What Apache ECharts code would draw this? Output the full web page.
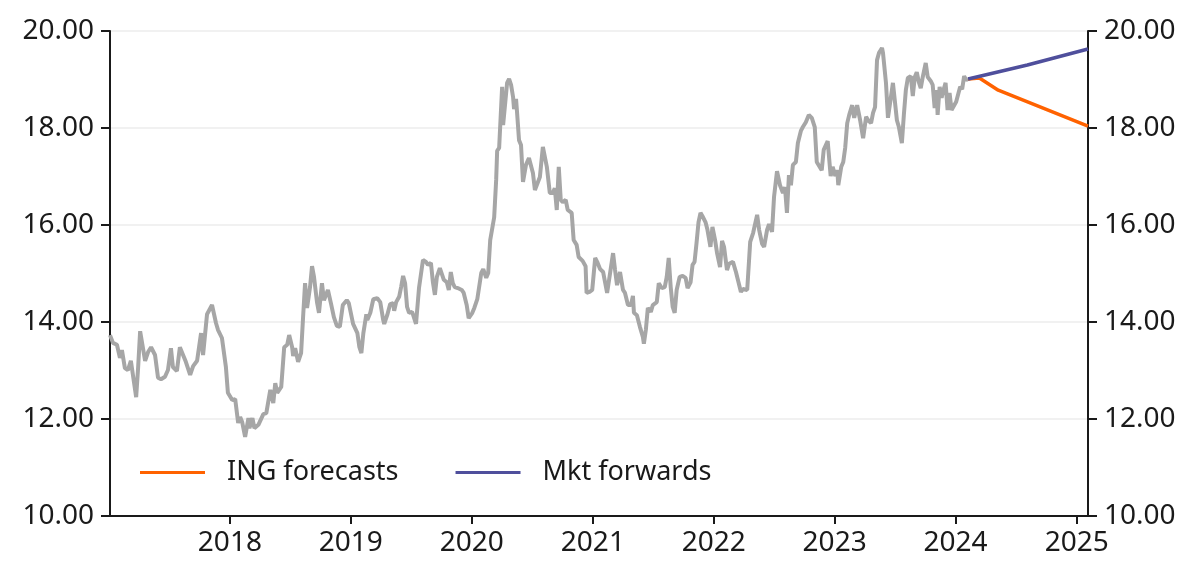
<!DOCTYPE html>
<html>

<head>
    <meta charset="UTF-8">
    <script src="https://cdn.jsdelivr.net/npm/echarts@6.0.0/dist/echarts.min.js"></script>
    <style>
        html, body { margin: 0; padding: 0; background: #fff; }
    </style>
</head>

<body>
    <div id="main" style="width: 1200px; height: 582px;"></div>
    <script>
        // weekly history
        const histData = [
            ['2017-01-04', 13.73], ['2017-01-13', 13.57], ['2017-01-25', 13.53], ['2017-02-03', 13.26], ['2017-02-09', 13.42],
            ['2017-02-18', 13.05], ['2017-02-27', 13.01], ['2017-03-08', 13.20], ['2017-03-24', 12.45], ['2017-03-30', 13.07],
            ['2017-04-05', 13.81], ['2017-04-20', 13.20], ['2017-04-29', 13.38], ['2017-05-08', 13.48], ['2017-05-20', 13.32],
            ['2017-05-29', 12.85], ['2017-06-07', 12.82], ['2017-06-19', 12.87], ['2017-06-28', 13.01], ['2017-07-07', 13.46],
            ['2017-07-13', 13.07], ['2017-07-25', 12.99], ['2017-08-03', 13.48], ['2017-08-09', 13.48], ['2017-08-21', 13.18],
            ['2017-09-03', 12.91], ['2017-09-12', 13.09], ['2017-09-24', 13.20], ['2017-10-06', 13.77], ['2017-10-12', 13.32],
            ['2017-10-24', 14.16], ['2017-11-08', 14.35], ['2017-11-20', 13.98], ['2017-11-26', 13.84], ['2017-12-08', 13.67],
            ['2017-12-20', 13.07], ['2017-12-26', 12.54],
            ['2018-01-08', 12.39], ['2018-01-17', 12.41], ['2018-01-26', 11.92], ['2018-02-01', 12.04], ['2018-02-07', 11.94],
            ['2018-02-16', 11.63], ['2018-02-26', 12.02], ['2018-03-01', 11.81], ['2018-03-10', 12.02], ['2018-03-16', 11.81],
            ['2018-03-28', 11.88], ['2018-04-12', 12.10], ['2018-04-21', 12.12], ['2018-05-03', 12.60], ['2018-05-12', 12.33],
            ['2018-05-18', 12.74], ['2018-05-24', 12.54], ['2018-06-05', 12.66], ['2018-06-14', 13.48], ['2018-06-23', 13.53],
            ['2018-06-29', 13.73], ['2018-07-08', 13.48], ['2018-07-11', 13.30], ['2018-07-17', 13.46], ['2018-07-26', 13.18],
            ['2018-08-04', 13.36], ['2018-08-10', 14.10], ['2018-08-16', 14.80], ['2018-08-22', 14.29], ['2018-08-31', 14.72],
            ['2018-09-06', 15.15], ['2018-09-12', 14.93], ['2018-09-21', 14.41], ['2018-09-27', 14.19], ['2018-10-06', 14.80],
            ['2018-10-12', 14.45], ['2018-10-18', 14.49], ['2018-10-24', 14.66], ['2018-11-02', 14.39], ['2018-11-11', 14.10],
            ['2018-11-20', 13.92], ['2018-11-29', 13.90], ['2018-12-08', 14.35], ['2018-12-20', 14.45], ['2018-12-26', 14.39],
            ['2019-01-08', 13.96], ['2019-01-21', 13.77], ['2019-01-27', 13.48], ['2019-02-02', 13.36], ['2019-02-08', 13.77],
            ['2019-02-17', 14.16], ['2019-02-20', 14.04], ['2019-03-01', 14.19], ['2019-03-10', 14.47], ['2019-03-16', 14.45],
            ['2019-03-22', 14.49], ['2019-03-31', 14.41], ['2019-04-09', 14.04], ['2019-04-12', 13.96], ['2019-04-21', 14.14],
            ['2019-04-30', 14.37], ['2019-05-09', 14.39], ['2019-05-12', 14.23], ['2019-05-18', 14.41], ['2019-05-27', 14.52],
            ['2019-06-02', 14.72], ['2019-06-08', 14.95], ['2019-06-14', 14.80], ['2019-06-20', 14.31], ['2019-06-26', 14.19],
            ['2019-07-05', 14.21], ['2019-07-08', 14.15], ['2019-07-17', 13.96], ['2019-07-26', 14.70], ['2019-08-07', 15.28],
            ['2019-08-16', 15.24], ['2019-08-22', 15.18], ['2019-08-31', 15.22], ['2019-09-06', 14.82], ['2019-09-12', 14.56],
            ['2019-09-18', 14.93], ['2019-09-27', 15.11], ['2019-10-03', 15.07], ['2019-10-09', 14.87], ['2019-10-18', 14.82],
            ['2019-10-24', 14.66], ['2019-10-30', 15.03], ['2019-11-05', 14.80], ['2019-11-11', 14.72], ['2019-11-20', 14.70],
            ['2019-12-02', 14.66], ['2019-12-08', 14.60], ['2019-12-17', 14.35], ['2019-12-23', 14.08],
            ['2020-01-03', 14.19], ['2020-01-09', 14.29], ['2020-01-18', 14.47], ['2020-01-24', 14.49], ['2020-01-30', 15.01],
            ['2020-02-05', 15.09], ['2020-02-14', 14.91], ['2020-02-20', 15.01], ['2020-02-26', 15.69], ['2020-03-03', 15.65],
            ['2020-03-09', 16.16], ['2020-03-15', 16.93], ['2020-03-18', 17.53], ['2020-03-24', 17.59], ['2020-04-02', 18.85],
            ['2020-04-05', 18.06], ['2020-04-11', 18.06], ['2020-04-17', 18.93], ['2020-04-23', 19.01], ['2020-04-29', 18.89],
            ['2020-05-05', 18.64], ['2020-05-08', 18.39], ['2020-05-14', 18.60], ['2020-05-17', 18.33], ['2020-05-23', 17.75],
            ['2020-05-29', 17.65], ['2020-06-04', 16.89], ['2020-06-13', 17.24], ['2020-06-22', 17.38], ['2020-06-28', 17.34],
            ['2020-07-04', 17.07], ['2020-07-10', 16.72], ['2020-07-16', 16.68], ['2020-07-25', 16.99], ['2020-08-03', 17.61],
            ['2020-08-15', 17.20], ['2020-08-24', 16.66], ['2020-09-02', 16.66], ['2020-09-08', 16.76], ['2020-09-14', 16.31],
            ['2020-09-20', 17.20], ['2020-09-26', 16.52], ['2020-10-02', 16.47], ['2020-10-11', 16.52], ['2020-10-17', 16.31],
            ['2020-10-29', 16.25], ['2020-11-04', 15.69], ['2020-11-13', 15.59], ['2020-11-19', 15.34], ['2020-12-01', 15.26],
            ['2020-12-10', 15.15], ['2020-12-13', 14.60], ['2020-12-22', 14.62], ['2020-12-30', 14.66],
            ['2021-01-08', 15.32], ['2021-01-14', 15.24], ['2021-01-23', 15.09], ['2021-02-01', 15.03], ['2021-02-13', 14.60],
            ['2021-02-19', 14.87], ['2021-03-03', 15.42], ['2021-03-09', 15.07], ['2021-03-15', 14.76], ['2021-03-24', 15.03],
            ['2021-04-02', 14.66], ['2021-04-08', 14.60], ['2021-04-17', 14.35], ['2021-04-26', 14.35], ['2021-05-02', 14.54],
            ['2021-05-05', 14.19], ['2021-05-14', 14.14], ['2021-05-23', 13.90], ['2021-06-01', 13.69], ['2021-06-04', 13.55],
            ['2021-06-10', 13.84], ['2021-06-16', 14.29], ['2021-06-25', 14.21], ['2021-07-01', 14.35], ['2021-07-07', 14.31],
            ['2021-07-13', 14.41], ['2021-07-19', 14.80], ['2021-07-28', 14.70], ['2021-08-06', 14.72], ['2021-08-12', 14.93],
            ['2021-08-18', 15.32], ['2021-08-24', 14.72], ['2021-08-30', 14.31], ['2021-09-05', 14.19], ['2021-09-11', 14.66],
            ['2021-09-20', 14.93], ['2021-09-29', 14.95], ['2021-10-08', 14.91], ['2021-10-14', 14.70], ['2021-10-23', 14.82],
            ['2021-10-29', 15.18], ['2021-11-04', 15.24], ['2021-11-10', 15.63], ['2021-11-16', 16.06], ['2021-11-22', 16.25],
            ['2021-11-28', 16.18], ['2021-12-07', 16.06], ['2021-12-13', 15.90], ['2021-12-22', 15.55], ['2021-12-28', 15.96],
            ['2022-01-05', 15.69], ['2022-01-11', 15.42], ['2022-01-20', 15.13], ['2022-01-26', 15.67], ['2022-02-01', 15.55],
            ['2022-02-10', 15.07], ['2022-02-16', 15.20], ['2022-02-28', 15.24], ['2022-03-09', 15.03], ['2022-03-15', 15.01],
            ['2022-03-24', 14.62], ['2022-03-30', 14.68], ['2022-04-12', 14.66], ['2022-04-21', 15.65], ['2022-04-30', 15.84],
            ['2022-05-12', 16.21], ['2022-05-18', 15.90], ['2022-05-27', 15.61], ['2022-06-02', 15.55], ['2022-06-11', 15.90],
            ['2022-06-17', 16.02], ['2022-06-26', 15.86], ['2022-07-02', 16.58], ['2022-07-11', 17.11], ['2022-07-20', 16.82],
            ['2022-07-29', 16.66], ['2022-08-04', 16.78], ['2022-08-10', 16.25], ['2022-08-16', 17.03], ['2022-08-22', 16.82],
            ['2022-08-28', 17.24], ['2022-09-06', 17.30], ['2022-09-12', 17.69], ['2022-09-21', 17.94], ['2022-09-27', 18.02],
            ['2022-10-06', 18.12], ['2022-10-15', 18.27], ['2022-10-24', 18.21], ['2022-11-02', 18.02], ['2022-11-08', 17.30],
            ['2022-11-14', 17.26], ['2022-11-23', 17.13], ['2022-11-29', 17.55], ['2022-12-05', 17.51], ['2022-12-11', 17.73],
            ['2022-12-20', 17.01], ['2022-12-26', 17.20],
            ['2023-01-03', 17.01], ['2023-01-09', 17.13], ['2023-01-12', 16.82], ['2023-01-21', 17.20], ['2023-01-27', 17.30],
            ['2023-02-02', 17.60], ['2023-02-08', 18.10], ['2023-02-14', 18.27], ['2023-02-23', 18.47], ['2023-03-01', 18.21],
            ['2023-03-10', 18.47], ['2023-03-19', 18.16], ['2023-03-28', 17.79], ['2023-04-06', 18.23], ['2023-04-12', 18.16],
            ['2023-04-21', 18.10], ['2023-04-27', 18.31], ['2023-05-03', 18.43], ['2023-05-09', 19.40], ['2023-05-15', 19.55],
            ['2023-05-24', 19.65], ['2023-05-27', 19.55], ['2023-06-05', 18.93], ['2023-06-11', 18.21], ['2023-06-20', 18.64],
            ['2023-06-26', 18.93], ['2023-07-02', 18.89], ['2023-07-08', 18.16], ['2023-07-14', 18.02], ['2023-07-23', 17.69],
            ['2023-07-29', 18.27], ['2023-08-04', 18.78], ['2023-08-10', 19.03], ['2023-08-19', 19.07], ['2023-08-25', 18.66],
            ['2023-08-31', 19.05], ['2023-09-06', 19.15], ['2023-09-12', 18.95], ['2023-09-18', 18.82], ['2023-09-24', 19.05],
            ['2023-10-03', 19.34], ['2023-10-09', 19.05], ['2023-10-18', 18.97], ['2023-10-24', 18.89], ['2023-10-30', 18.41],
            ['2023-11-05', 18.78], ['2023-11-08', 18.27], ['2023-11-14', 18.85], ['2023-11-20', 18.62], ['2023-11-23', 18.72],
            ['2023-12-02', 18.93], ['2023-12-08', 18.37], ['2023-12-14', 18.72], ['2023-12-20', 18.37], ['2023-12-26', 18.33],
            ['2024-01-03', 18.54], ['2024-01-09', 18.58], ['2024-01-15', 18.85], ['2024-01-21', 18.80], ['2024-01-27', 19.07],
            ['2024-02-02', 18.99], ['2024-02-08', 19.01]
        ];

        const ingDates = ['2024-02-08', '2024-03-13', '2024-05-09', '2025-02-04'];
        const ingValues = [19.01, 19.03, 18.78, 18.04];

        const fwdDates = ['2024-02-08', '2024-08-05', '2025-02-04'];
        const fwdValues = [19.01, 19.30, 19.63];

        const yTicks = [10, 12, 14, 16, 18, 20];
        const xStart = '2017-01-04';
        const xEnd = '2025-02-04';

        const font = 'Noto Sans';
        const textColor = '#1a1a1a';

        function pairs(dates, values) {
            return dates.map((d, i) => [d, values[i]]);
        }

        var myChart = echarts.init(document.getElementById('main'));

        const yAxisCommon = {
            type: 'value',
            min: yTicks[0],
            max: yTicks[yTicks.length - 1],
            interval: 2,
            axisLine: { show: true, lineStyle: { color: textColor, width: 2 } },
            axisTick: { show: true, length: 9, lineStyle: { color: textColor, width: 2 } },
            axisLabel: {
                color: textColor,
                fontFamily: font,
                fontSize: 28,
                margin: 16,
                formatter: v => v.toFixed(2)
            }
        };

        var option = {
            animation: false,
            backgroundColor: '#fff',
            grid: {
                left: 110,
                right: 112,
                top: 31,
                bottom: 66
            },
            legend: {
                data: ['ING forecasts', 'Mkt forwards'],
                left: 135,
                top: 454,
                icon: 'rect',
                itemWidth: 65,
                itemHeight: 3,
                itemGap: 57,
                textStyle: {
                    color: textColor,
                    fontFamily: font,
                    fontSize: 27,
                    padding: [0, 0, 0, 17]
                }
            },
            xAxis: {
                type: 'time',
                min: xStart,
                max: xEnd,
                minInterval: 365 * 24 * 3600 * 1000,
                axisLine: { show: true, onZero: false, lineStyle: { color: textColor, width: 2 } },
                axisTick: { show: true, length: 8, lineStyle: { color: textColor, width: 2 } },
                splitLine: { show: false },
                axisLabel: {
                    color: textColor,
                    fontFamily: font,
                    fontSize: 28,
                    margin: 13,
                    showMinLabel: false,
                    showMaxLabel: false,
                    formatter: '{yyyy}'
                }
            },
            yAxis: [
                Object.assign({}, yAxisCommon, {
                    position: 'left',
                    splitLine: { show: true, lineStyle: { color: '#ececec', width: 1.5 } }
                }),
                Object.assign({}, yAxisCommon, {
                    position: 'right',
                    splitLine: { show: false }
                })
            ],
            series: [
                {
                    name: 'EURMXN',
                    type: 'line',
                    data: histData,
                    showSymbol: false,
                    lineStyle: { color: '#a6a6a6', width: 4 },
                    itemStyle: { color: '#a6a6a6' },
                    z: 2
                },
                {
                    name: 'ING forecasts',
                    type: 'line',
                    data: pairs(ingDates, ingValues),
                    showSymbol: false,
                    lineStyle: { color: '#ff6200', width: 3.5 },
                    itemStyle: { color: '#ff6200' },
                    z: 3
                },
                {
                    name: 'Mkt forwards',
                    type: 'line',
                    data: pairs(fwdDates, fwdValues),
                    showSymbol: false,
                    lineStyle: { color: '#4f4f9c', width: 3.5 },
                    itemStyle: { color: '#4f4f9c' },
                    z: 4
                }
            ]
        };

        option && myChart.setOption(option);
    </script>
</body>

</html>
